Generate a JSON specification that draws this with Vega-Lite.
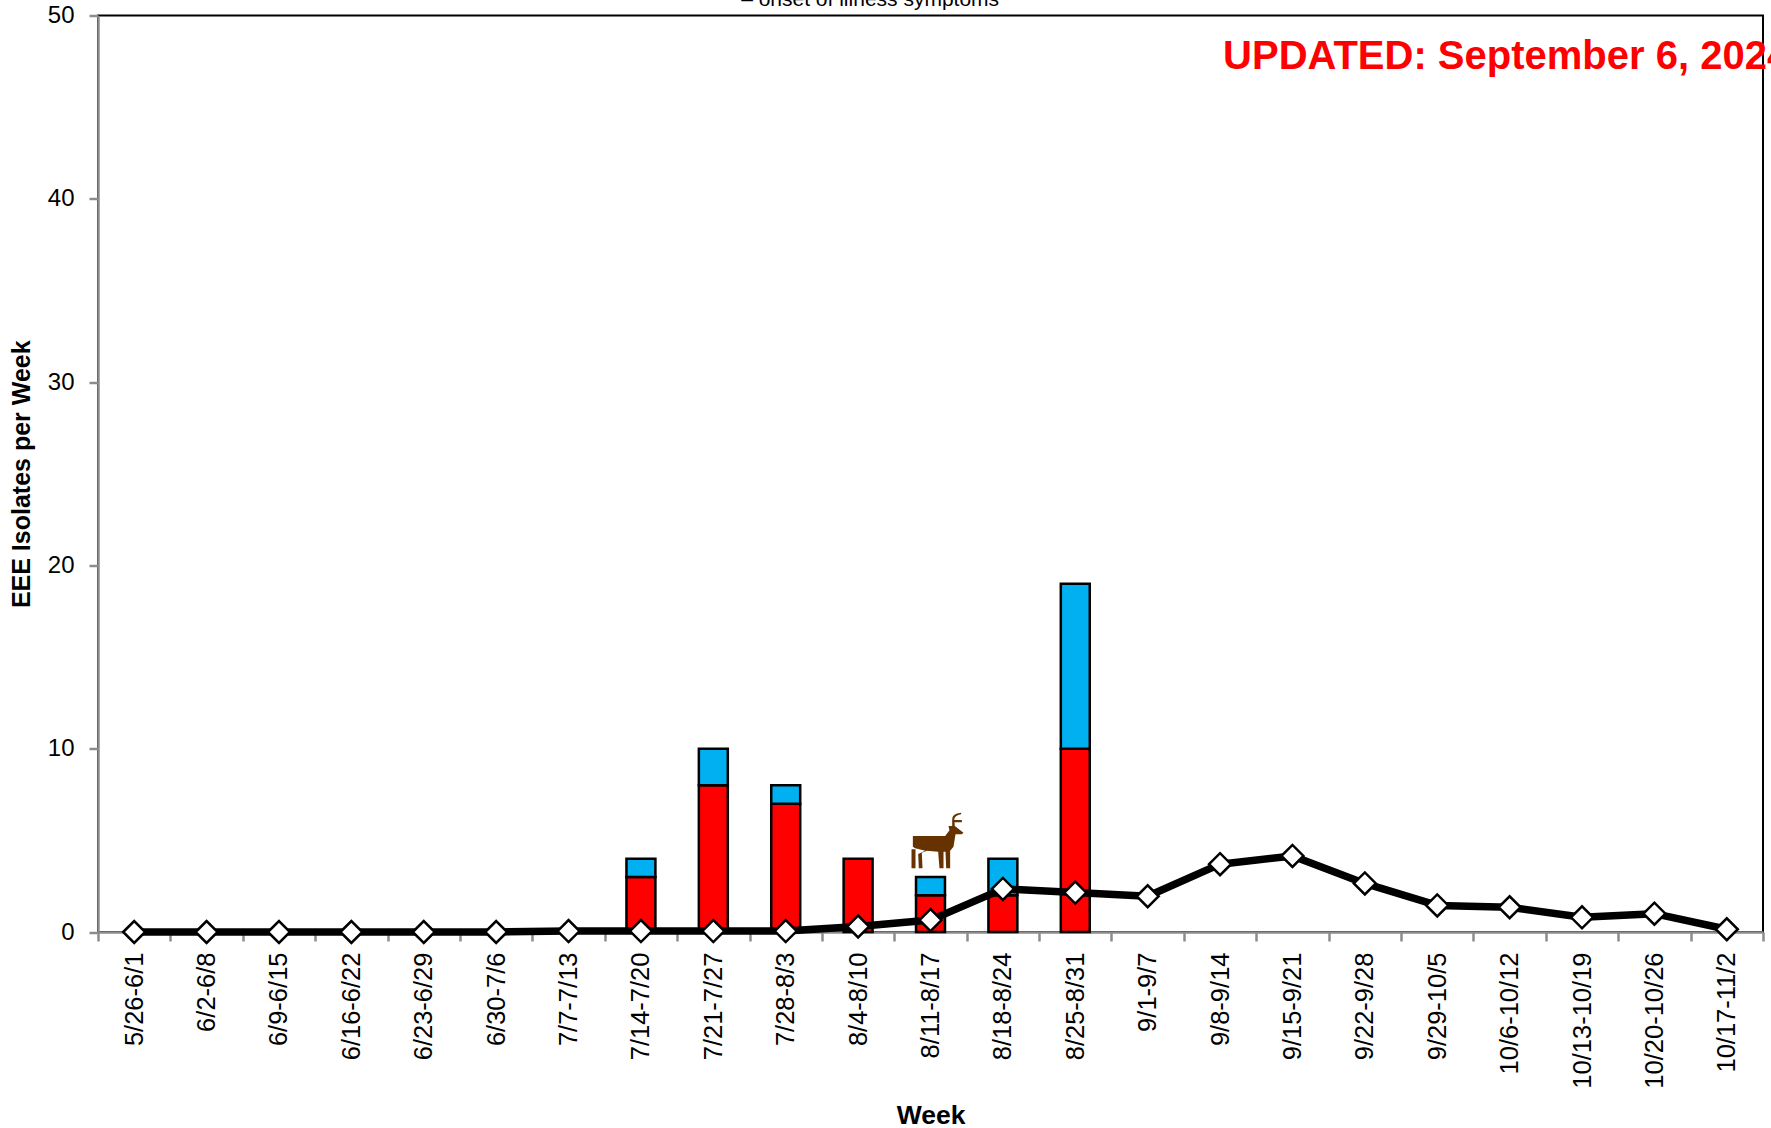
{"$schema":"https://vega.github.io/schema/vega-lite/v6.json","width":1665,"height":916.5,"autosize":{"type":"none"},"padding":{"left":98,"top":15.5,"right":8,"bottom":196},"background":"white","config":{"font":"Liberation Sans","view":{"stroke":"black","strokeWidth":2},"axisY":{"tickCount":5,"labelFontSize":24,"labelColor":"black","labelPadding":15,"tickSize":9,"tickColor":"#8c8c8c","tickWidth":2.5,"domainColor":"#8c8c8c","domainWidth":2.5,"grid":false,"titleFontSize":25,"titleFontWeight":"bold","titleColor":"black","titlePadding":13}},"datasets":{"bars":[{"week":"7/14-7/20","series":"Series 1","isolates":3},{"week":"7/14-7/20","series":"Series 2","isolates":1},{"week":"7/21-7/27","series":"Series 1","isolates":8},{"week":"7/21-7/27","series":"Series 2","isolates":2},{"week":"7/28-8/3","series":"Series 1","isolates":7},{"week":"7/28-8/3","series":"Series 2","isolates":1},{"week":"8/4-8/10","series":"Series 1","isolates":4},{"week":"8/11-8/17","series":"Series 1","isolates":2},{"week":"8/11-8/17","series":"Series 2","isolates":1},{"week":"8/18-8/24","series":"Series 1","isolates":2},{"week":"8/18-8/24","series":"Series 2","isolates":2},{"week":"8/25-8/31","series":"Series 1","isolates":10},{"week":"8/25-8/31","series":"Series 2","isolates":9}],"avg":[{"week":"5/26-6/1","average":0},{"week":"6/2-6/8","average":0},{"week":"6/9-6/15","average":0},{"week":"6/16-6/22","average":0},{"week":"6/23-6/29","average":0},{"week":"6/30-7/6","average":0},{"week":"7/7-7/13","average":0.05},{"week":"7/14-7/20","average":0.05},{"week":"7/21-7/27","average":0.05},{"week":"7/28-8/3","average":0.05},{"week":"8/4-8/10","average":0.3},{"week":"8/11-8/17","average":0.65},{"week":"8/18-8/24","average":2.35},{"week":"8/25-8/31","average":2.15},{"week":"9/1-9/7","average":1.95},{"week":"9/8-9/14","average":3.7},{"week":"9/15-9/21","average":4.15},{"week":"9/22-9/28","average":2.65},{"week":"9/29-10/5","average":1.45},{"week":"10/6-10/12","average":1.35},{"week":"10/13-10/19","average":0.8},{"week":"10/20-10/26","average":1.0},{"week":"10/17-11/2","average":0.15}]},"encoding":{"x":{"field":"week","type":"nominal","title":"Week","scale":{"domain":["5/26-6/1","6/2-6/8","6/9-6/15","6/16-6/22","6/23-6/29","6/30-7/6","7/7-7/13","7/14-7/20","7/21-7/27","7/28-8/3","8/4-8/10","8/11-8/17","8/18-8/24","8/25-8/31","9/1-9/7","9/8-9/14","9/15-9/21","9/22-9/28","9/29-10/5","10/6-10/12","10/13-10/19","10/20-10/26","10/17-11/2"],"paddingInner":0,"paddingOuter":0},"axis":{"labelAngle":-90,"labelAlign":"right","labelBaseline":"middle","labelFontSize":25.5,"labelColor":"black","labelPadding":11,"labelOverlap":false,"tickBand":"extent","tickSize":9,"tickColor":"#8c8c8c","tickWidth":2.5,"domainColor":"#8c8c8c","domainWidth":2.5,"grid":false,"titleFontSize":26.5,"titleFontWeight":"bold","titleColor":"black","titlePadding":14}}},"layer":[{"data":{"name":"bars"},"mark":{"type":"bar","stroke":"black","strokeWidth":2.5,"width":{"band":0.4}},"encoding":{"y":{"field":"isolates","type":"quantitative","stack":"zero","title":"EEE Isolates per Week","scale":{"domain":[0,50],"nice":false}},"color":{"field":"series","type":"nominal","legend":null,"scale":{"domain":["Series 1","Series 2"],"range":["#FF0000","#00B0F0"]}},"order":{"field":"series","sort":"ascending"}}},{"data":{"name":"avg"},"mark":{"type":"line","stroke":"black","strokeWidth":7.5,"strokeJoin":"round"},"encoding":{"y":{"field":"average","type":"quantitative","title":"EEE Isolates per Week"}}},{"data":{"name":"avg"},"mark":{"type":"point","shape":"diamond","filled":true,"fill":"white","stroke":"black","strokeWidth":2.5,"opacity":1,"size":484},"encoding":{"y":{"field":"average","type":"quantitative","title":"EEE Isolates per Week"}}},{"data":{"values":[{"label":"UPDATED: September 6, 2024"}]},"mark":{"type":"text","align":"left","baseline":"alphabetic","fontSize":40,"fontWeight":"bold","color":"#FF0000","dx":3},"encoding":{"x":{"datum":"9/8-9/14"},"y":{"datum":47.1,"type":"quantitative","title":"EEE Isolates per Week"},"text":{"field":"label"}}},{"data":{"values":[{"label":"– onset of illness symptoms"}]},"mark":{"type":"text","align":"center","baseline":"alphabetic","fontSize":21,"color":"black","dx":12},"encoding":{"x":{"datum":"8/4-8/10"},"y":{"datum":50.5,"type":"quantitative","title":"EEE Isolates per Week"},"text":{"field":"label"}}},{"data":{"values":[{"label":"deer"}]},"mark":{"type":"point","filled":true,"fill":"#663300","strokeWidth":0,"opacity":1,"size":3249,"xOffset":7,"shape":"M-.865-.023L-.865-.14-.725-.14.269-.14.42-.34.386-.491.515-.491.515-.702Q.491-.936.83-.959L.83-.9Q.596-.865.585-.702L.854-.702.854-.62.596-.62.608-.491.912-.257.854-.199.632-.199.561.234.444.374.444.994.304.994.281.409.211.409.211.994.07.994.023.409-.374.374-.55.45-.526.994-.655.994-.678.491-.433.374-.784.292-.865.234ZM-.912.327L-.772.327-.772.994-.912.994Z"},"encoding":{"x":{"datum":"8/11-8/17"},"y":{"datum":5.02,"type":"quantitative","title":"EEE Isolates per Week"}}}]}
